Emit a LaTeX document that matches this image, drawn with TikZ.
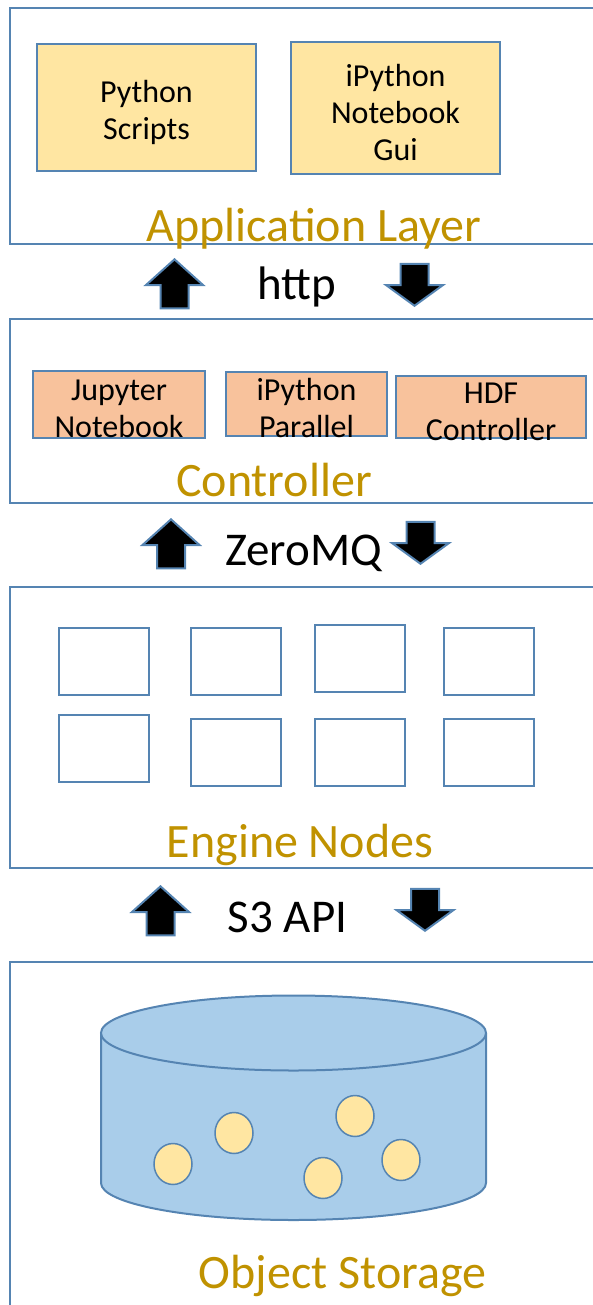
\documentclass[tikz,border=0pt]{standalone}
\usepackage{fontspec}
\setmainfont{Carlito}
\usetikzlibrary{shapes.arrows}
\definecolor{edgeblue}{HTML}{5584B2}
\definecolor{appfill}{HTML}{FFE6A2}
\definecolor{ctrlfill}{HTML}{F8C29C}
\definecolor{diskfill}{HTML}{A9CDEA}
\definecolor{layertext}{HTML}{C09200}
\tikzset{
  layer/.style={draw=edgeblue, line width=2.5pt},
  layername/.style={anchor=base, text=layertext, inner sep=0pt,
    font=\fontsize{48}{52}\selectfont},
  proto/.style={anchor=base, inner sep=0pt, font=\fontsize{47}{50}\selectfont},
  boxtext/.style={align=center, inner sep=0pt, yshift=-4.5pt,
    font=\fontsize{32}{37}\selectfont},
  appbox/.style={draw=edgeblue, fill=appfill, line width=2pt, inner sep=0pt},
  ctrlbox/.style={appbox, fill=ctrlfill},
  engine/.style={draw=edgeblue, line width=2pt, minimum width=90pt,
    minimum height=67pt, inner sep=0pt},
  blockarrow/.style={single arrow, draw=edgeblue, fill=black, line width=2pt,
    inner sep=13pt, single arrow head extend=14.5pt, anchor=tip},
  uparrow/.style={blockarrow, rotate=90, minimum height=49pt,
    single arrow tip angle=96},
  downarrow/.style={blockarrow, rotate=-90, minimum height=42pt,
    single arrow tip angle=108},
  dot/.style={draw=edgeblue, fill=appfill, line width=1.5pt},
}
\begin{document}
\begin{tikzpicture}[x=1pt, y=-1pt]
  \useasboundingbox (0,0) rectangle (593,1305);
  \clip (0,0) rectangle (593,1305);

  % application layer
  \draw[layer] (10,8) rectangle (620,244);
  \node[appbox, minimum width=219pt, minimum height=127pt,
    label={[boxtext]center:{Python\\Scripts}}] (scripts) at (146.5,107.5) {};
  \node[appbox, minimum width=209pt, minimum height=132pt,
    label={[boxtext]center:{iPython\\Notebook\\Gui}}] (gui) at (395.5,108) {};
  \node[layername] (applabel) at (314,242) {Application Layer};

  % http
  \node[uparrow] (httpup) at (174.5,258) {};
  \node[proto] (http) at (297,300) {http};
  \node[downarrow] (httpdown) at (414.5,307) {};

  % controller
  \draw[layer] (10,319) rectangle (620,503);
  \node[ctrlbox, minimum width=172pt, minimum height=67pt,
    label={[boxtext]center:{Jupyter\\Notebook}}] (jupyter) at (119,404.5) {};
  \node[ctrlbox, minimum width=161pt, minimum height=64pt,
    label={[boxtext]center:{iPython\\Parallel}}] (parallel) at (306.5,404) {};
  \node[ctrlbox, minimum width=190pt, minimum height=62pt,
    label={[boxtext]center:{HDF\\Controller}}] (hdf) at (491,407) {};
  \node[layername] (ctrllabel) at (274,496) {Controller};

  % zeromq
  \node[uparrow] (zmqup) at (171,518) {};
  \node[proto] (zmq) at (303.5,565) {ZeroMQ};
  \node[downarrow] (zmqdown) at (420.5,565) {};

  % engine nodes
  \draw[layer] (10,587) rectangle (620,868);
  \foreach \name/\pos in {e1/{(104,661.5)}, e2/{(235.5,661.5)},
      e3/{(360,658.5)}, e4/{(489,661.5)}, e5/{(104,748.5)},
      e6/{(235.5,752.5)}, e7/{(360,752.5)}, e8/{(489,752.5)}}
    \node[engine] (\name) at \pos {};
  \node[layername] (enginelabel) at (300,857) {Engine Nodes};

  % s3 api
  \node[uparrow] (s3up) at (160.5,885) {};
  \node[proto] (s3) at (287.5,932) {S3 API};
  \node[downarrow] (s3down) at (425,932) {};

  % object storage
  \draw[layer] (10,962) rectangle (620,1320);
  \fill[diskfill] (101,1033) -- (101,1183)
    arc[start angle=180, end angle=0, x radius=192.5, y radius=37] -- (486,1033) -- cycle;
  \draw[draw=edgeblue, line width=2pt] (101,1033) -- (101,1183)
    arc[start angle=180, end angle=0, x radius=192.5, y radius=37] -- (486,1033);
  \draw[draw=edgeblue, fill=diskfill, line width=2pt] (293.5,1033)
    ellipse[x radius=192.5, y radius=37.5];
  \foreach \pos in {(173,1164), (234,1133), (355,1116), (323,1178), (401,1160)}
    \draw[dot] \pos ellipse[x radius=19, y radius=20.5];
  \node[layername] (storelabel) at (342.5,1288) {Object Storage};
\end{tikzpicture}
\end{document}
